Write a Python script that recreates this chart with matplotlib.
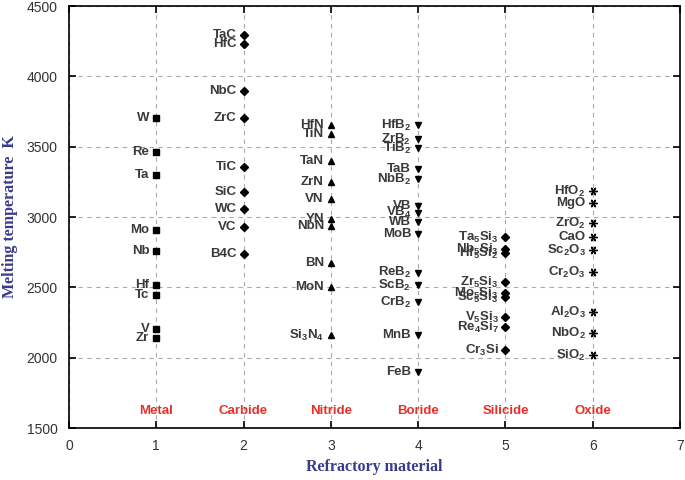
import matplotlib
matplotlib.use("Agg")
import matplotlib.pyplot as plt

plt.rcParams['font.family'] = ['Liberation Sans', 'DejaVu Sans']
plt.rcParams['mathtext.default'] = 'regular'

categories = ["Metal", "Carbide", "Nitride", "Boride", "Silicide", "Oxide"]

metal_names = ["W", "Re", "Ta", "Mo", "Nb", "Hf", "Tc", "V", "Zr"]
metal_temps = [3703, 3462, 3298, 2907, 2758, 2516, 2445, 2203, 2139]

carbide_names = ["TaC", "HfC", "NbC", "ZrC", "TiC", "SiC", "WC", "VC", "B4C"]
carbide_temps = [4294, 4230, 3896, 3704, 3355, 3178, 3057, 2929, 2737]

nitride_names = ["HfN", "TiN", "TaN", "ZrN", "VN", "YN", "NbN", "BN", "MoN",
                 "Si$_3$N$_4$"]
nitride_temps = [3654, 3590, 3398, 3249, 3128, 2986, 2936, 2673, 2502, 2158]

boride_names = ["HfB$_2$", "ZrB$_2$", "TiB$_2$", "TaB", "NbB$_2$", "VB",
                "VB$_4$", "WB", "MoB", "ReB$_2$", "ScB$_2$", "CrB$_2$",
                "MnB", "FeB"]
boride_temps = [3654, 3554, 3490, 3341, 3270, 3078, 3030, 2965, 2880, 2603,
                2516, 2395, 2160, 1897]

silicide_names = ["Ta$_5$Si$_3$", "Nb$_5$Si$_3$", "Hf$_5$Si$_2$",
                  "Zr$_5$Si$_3$", "Mo$_5$Si$_3$", "Sc$_5$Si$_3$",
                  "V$_5$Si$_3$", "Re$_4$Si$_7$", "Cr$_3$Si"]
silicide_temps = [2857, 2772, 2744, 2537, 2459, 2431, 2289, 2218, 2054]

oxide_names = ["HfO$_2$", "MgO", "ZrO$_2$", "CaO", "Sc$_2$O$_3$",
               "Cr$_2$O$_3$", "Al$_2$O$_3$", "NbO$_2$", "SiO$_2$"]
oxide_temps = [3185, 3100, 2957, 2857, 2765, 2609, 2325, 2175, 2018]

x_ticks = [0, 1, 2, 3, 4, 5, 6, 7]
y_ticks = [1500, 2000, 2500, 3000, 3500, 4000, 4500]

groups = [
    (1, metal_names, metal_temps, 's', 4.5),
    (2, carbide_names, carbide_temps, 'D', 4),
    (3, nitride_names, nitride_temps, '^', 5),
    (4, boride_names, boride_temps, 'v', 5),
    (5, silicide_names, silicide_temps, 'D', 4),
    (6, oxide_names, oxide_temps, (6, 2, 90), 6),
]

fig = plt.figure(figsize=(6.85, 4.8), dpi=100)
ax = fig.add_axes([0.1007, 0.1083, 0.8920, 0.8792])

for xpos, names, temps, mk, ms in groups:
    xs = [xpos] * len(temps)
    ax.plot(xs, temps, linestyle='none', marker=mk, markersize=ms,
            color='black', markeredgewidth=1.0, zorder=3)
    for n, t in zip(names, temps):
        ax.annotate(n, (xpos, t), xytext=(-5, 0), textcoords='offset points',
                    ha='right', va='center', fontsize=9.5, fontweight='bold',
                    color='#3a3a3a', zorder=4)

for i, c in enumerate(categories):
    ax.text(i + 1, 1620, c, ha='center', va='center', fontsize=9.5,
            fontweight='bold', color='#e8302a', zorder=4)

ax.set_xlim(0, 7)
ax.set_ylim(1500, 4500)
ax.set_xticks(x_ticks)
ax.set_yticks(y_ticks)
ax.tick_params(direction='in', top=True, right=True, length=5, width=1.2,
               labelsize=10, labelcolor='#333333', pad=8)
ax.grid(True, linestyle=(0, (4, 4)), color='#aaaaaa', linewidth=0.8)
ax.set_axisbelow(True)
for s in ax.spines.values():
    s.set_linewidth(1.2)

ax.set_xlabel("Refractory material", fontsize=11.5, fontweight='bold',
              family='Liberation Serif', color='#3a3a8c')
ax.set_ylabel("Melting temperature  K", fontsize=11.5, fontweight='bold',
              family='Liberation Serif', color='#3a3a8c')
ax.xaxis.set_label_coords(0.5, -0.074)
ax.yaxis.set_label_coords(-0.083, 0.5)

fig.savefig("out.png", dpi=100)
